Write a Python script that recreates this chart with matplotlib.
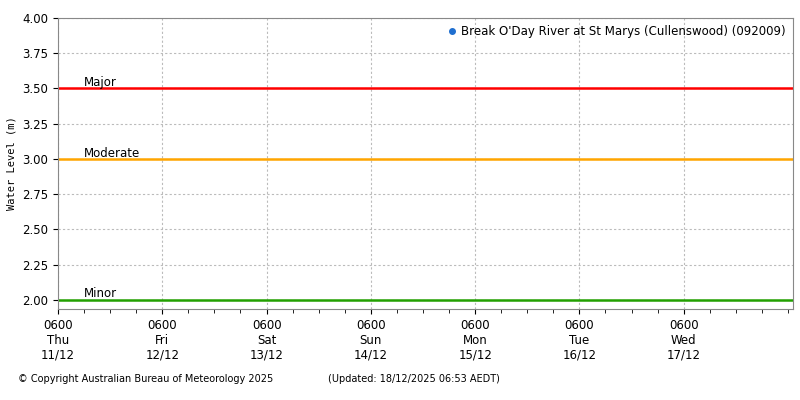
import matplotlib
matplotlib.use("Agg")
import matplotlib.pyplot as plt
from matplotlib.ticker import MultipleLocator

days = ["Thu\n11/12", "Fri\n12/12", "Sat\n13/12", "Sun\n14/12", "Mon\n15/12", "Tue\n16/12", "Wed\n17/12"]
thresh_names = ["Major", "Moderate", "Minor"]
thresh_vals = [3.5, 3.0, 2.0]
thresh_cols = ["#ff0000", "#ffa500", "#22a000"]
yticks = [2.00, 2.25, 2.50, 2.75, 3.00, 3.25, 3.50, 3.75, 4.00]

fig = plt.figure(figsize=(8, 4), dpi=100)
ax = fig.add_axes([0.0725, 0.228, 0.919, 0.727])
ax.set_xlim(0, 7.05)
ax.set_ylim(1.936, 4.0)
ax.set_xticks(range(len(days)))
ax.set_xticklabels(["0600\n" + d for d in days], fontsize=8.5)
ax.xaxis.set_minor_locator(MultipleLocator(0.25))
ax.tick_params(axis='x', which='minor', length=3)
ax.set_yticks(yticks)
ax.set_yticklabels([f"{v:.2f}" for v in yticks], fontsize=8.5)
ax.grid(True, color="#bbbbbb", linestyle=(0, (2, 2)), linewidth=0.8)
for n, v, c in zip(thresh_names, thresh_vals, thresh_cols):
    ax.axhline(v, color=c, linewidth=1.8)
    ax.text(0.25, v - 0.005, n, fontsize=8.5, va='bottom')
ax.set_ylabel("Water Level (m)", family="DejaVu Sans Mono", fontsize=7.5)
ax.plot([], [], 'o', color="#1f6fd0", markersize=4, label="Break O'Day River at St Marys (Cullenswood) (092009)")
ax.legend(loc="upper right", frameon=False, fontsize=8.5, handletextpad=0.2,
          borderaxespad=0.2, handlelength=1.2)
for s in ax.spines.values():
    s.set_color("#888888")
fig.text(0.022, 0.045, "© Copyright Australian Bureau of Meteorology 2025", fontsize=7)
fig.text(0.41, 0.045, "(Updated: 18/12/2025 06:53 AEDT)", fontsize=7)
fig.savefig("out.png")
